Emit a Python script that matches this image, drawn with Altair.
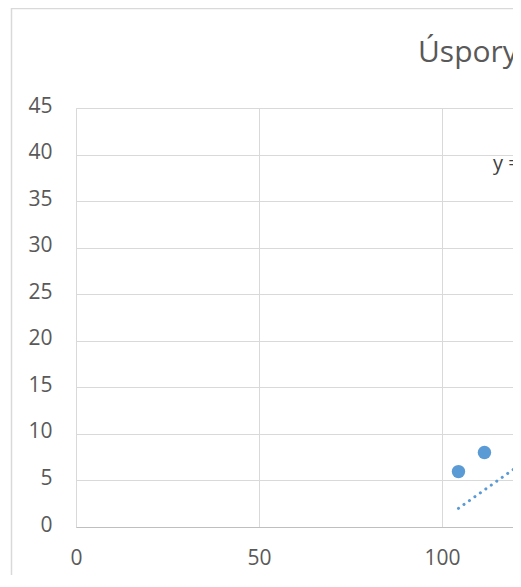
import altair as alt
import pandas as pd

# data
pts_x = [104.5, 111.6]
pts_y = [5.95, 8.0]
trend_x = [104.5, 140.0]
trend_y = [2.0, 11.9]
y_ticks = [0, 5, 10, 15, 20, 25, 30, 35, 40, 45]
x_ticks = [0, 50, 100]
title_text = "Úspory energie"
eq_text = "y = 0,2778x - 27,03"

FONT = "Open Sans"
W, H = 437, 419
XMAX = 437 / 3.66

pts = pd.DataFrame({"x": pts_x, "y": pts_y})
trend = pd.DataFrame({"x": trend_x, "y": trend_y})

xs = alt.Scale(domain=[0, XMAX], nice=False, zero=False)
ys = alt.Scale(domain=[0, 45], nice=False)

xax = alt.Axis(values=x_ticks, grid=True, gridColor="#D9D9D9", ticks=False,
               domainColor="#BFBFBF", labelColor="#595959", labelFontSize=21,
               labelFont=FONT, labelPadding=20, title=None, labelFlush=False)
yax = alt.Axis(values=y_ticks, grid=True, gridColor="#D9D9D9", ticks=False,
               domain=False, labelColor="#595959", labelFontSize=21,
               labelFont=FONT, labelPadding=24, labelOffset=-2, title=None)

base_pts = alt.Chart(pts).mark_circle(size=180, color="#5B9BD5", opacity=1).encode(
    x=alt.X("x:Q", scale=xs, axis=xax),
    y=alt.Y("y:Q", scale=ys, axis=yax),
)

line = alt.Chart(trend).mark_line(
    color="#5B9BD5", strokeWidth=3, strokeDash=[0.1, 6.6], strokeCap="round", clip=True
).encode(
    x=alt.X("x:Q", scale=xs),
    y=alt.Y("y:Q", scale=ys),
)

deco = pd.DataFrame({"a": [0]})
frame_v = alt.Chart(deco).mark_rule(color="#D9D9D9", strokeWidth=1.5).encode(
    x=alt.value(-64.5), y=alt.value(-100), y2=alt.value(480))
frame_h = alt.Chart(deco).mark_rule(color="#D9D9D9", strokeWidth=1.5).encode(
    y=alt.value(-99.5), x=alt.value(-65), x2=alt.value(460))

title = alt.Chart(deco).mark_text(
    text=title_text, font=FONT, fontSize=30, color="#595959", align="left",
    baseline="alphabetic"
).encode(x=alt.value(342), y=alt.value(-46))

eq = alt.Chart(deco).mark_text(
    text=eq_text, font=FONT, fontSize=20, color="#404040", align="left",
    baseline="alphabetic"
).encode(x=alt.value(417), y=alt.value(62))

chart = alt.layer(frame_v, frame_h, base_pts, line, title, eq).properties(
    width=W, height=H,
    autosize=alt.AutoSizeParams(type="none"),
    padding={"left": 68, "top": 100, "right": 0, "bottom": 48},
).configure_view(stroke=None).configure(background="white")

chart.save("out.html", embed_options={"renderer": "svg", "actions": False})
